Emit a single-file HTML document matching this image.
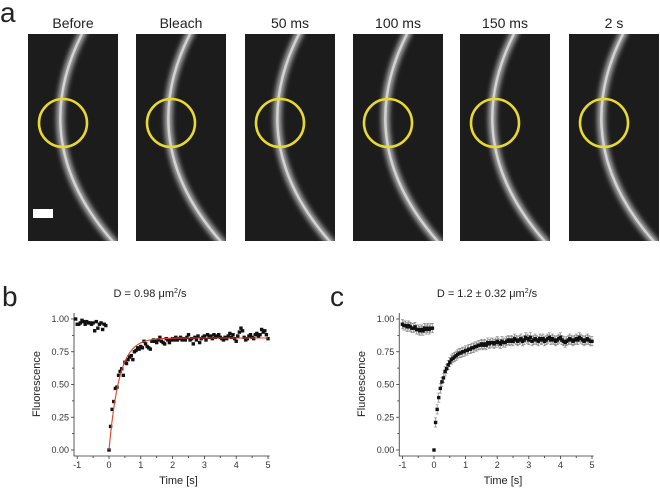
<!DOCTYPE html>
<html><head><meta charset="utf-8">
<style>
html,body{margin:0;padding:0;background:#fff;}
svg{display:block;font-family:"Liberation Sans",sans-serif;}
</style></head>
<body>
<svg id="fig" width="660" height="490" viewBox="0 0 660 490">
<defs>
<filter id="blur" x="-50%" y="-10%" width="200%" height="120%"><feGaussianBlur stdDeviation="2.4"/></filter>
<clipPath id="pclip"><rect x="0" y="0" width="90" height="207"/></clipPath>
</defs>
<text x="0" y="22" font-size="28" fill="#222">a</text>
<text x="2" y="306" font-size="28" fill="#222">b</text>
<text x="330" y="306" font-size="28" fill="#222">c</text>
<g id="images"></g>
<g id="chartB"></g>
<g id="chartC"></g>
</svg>
<script>
const NS="http://www.w3.org/2000/svg";
// ---- image panels ----
const panelTitles=["Before","Bleach","50 ms","100 ms","150 ms","2 s"];
const panelLefts=[28,136,245,353,460,569];
function mk(tag,attrs,parent){const e=document.createElementNS(NS,tag);for(const k in attrs)e.setAttribute(k,attrs[k]);parent.appendChild(e);return e;}
const imgs=document.getElementById('images');
panelTitles.forEach((t,i)=>{
  const x0=panelLefts[i];
  const g=mk('g',{transform:`translate(${x0},34)`},imgs);
  
  
  const inner=mk('g',{'clip-path':'url(#pclip)'},g);
  mk('rect',{x:0,y:0,width:90,height:207,fill:'#1c1c1c'},inner);
  mk('path',{d:'M56,-4 Q-4,110 88,211',fill:'none',stroke:'#a8a8a8','stroke-width':8,filter:'url(#blur)'},inner);
  mk('path',{d:'M56,-4 Q-4,110 88,211',fill:'none',stroke:'#e6e6e6','stroke-width':2.4,opacity:0.75},inner);
  const c=mk('circle',{cx:35,cy:89,r:24,fill:'none',stroke:'#e9d92c','stroke-width':2.6},g);
  
  
  const tt=mk('text',{x:x0+45,y:28,'font-size':14,'text-anchor':'middle',fill:'#222'},imgs);
  tt.textContent=t;
  
  
  if(i===0){const sb=mk('rect',{x:5,y:175,width:20,height:9,fill:'#fff'},g);
    
    }
});

// ---- chart data ----
const xTicks=[-1,0,1,2,3,4,5];
const yTicks=[0,0.25,0.5,0.75,1.0];
const yTickLabels=["0.00","0.25","0.50","0.75","1.00"];
const bPreStart=-1.05;
const bPre=[1.00,0.96,0.96,0.97,0.99,0.98,0.96,0.98,0.97,0.97,0.96,0.97,0.91,0.98,0.93,0.96,0.97,0.92,0.96,0.95];
const bPost=[0,0.18,0.31,0.37,0.47,0.48,0.57,0.60,0.62,0.57,0.67,0.66,0.69,0.71,0.72,0.69,0.75,0.76,0.78,0.77,0.79,0.78,0.83,0.81,0.79,0.78,0.77,0.83,0.84,0.83,0.82,0.84,0.86,0.83,0.82,0.81,0.85,0.84,0.82,0.84,0.85,0.84,0.86,0.84,0.85,0.86,0.84,0.85,0.84,0.86,0.88,0.84,0.85,0.81,0.86,0.84,0.87,0.82,0.85,0.86,0.87,0.84,0.88,0.86,0.87,0.85,0.88,0.86,0.87,0.88,0.86,0.85,0.84,0.86,0.85,0.87,0.89,0.86,0.88,0.85,0.83,0.87,0.90,0.93,0.91,0.86,0.84,0.85,0.87,0.88,0.86,0.85,0.88,0.89,0.87,0.88,0.92,0.90,0.91,0.88,0.85];
const bFitPlateau=[0.855];
const bFitTau=[0.32];
const cPreStart=-1.0;
const cPre=[0.96,0.95,0.95,0.94,0.95,0.94,0.93,0.93,0.94,0.92,0.92,0.91,0.92,0.91,0.93,0.92,0.93,0.92,0.93,0.93];
const cPost=[0,0.21,0.31,0.40,0.47,0.52,0.55,0.60,0.62,0.65,0.67,0.69,0.70,0.71,0.72,0.73,0.74,0.74,0.75,0.75,0.76,0.76,0.77,0.77,0.78,0.78,0.79,0.79,0.80,0.80,0.81,0.80,0.81,0.80,0.82,0.81,0.82,0.82,0.81,0.82,0.83,0.82,0.81,0.83,0.82,0.82,0.83,0.84,0.83,0.84,0.83,0.85,0.84,0.83,0.84,0.85,0.83,0.84,0.86,0.85,0.84,0.86,0.83,0.84,0.85,0.84,0.83,0.85,0.84,0.85,0.83,0.84,0.85,0.86,0.84,0.85,0.84,0.83,0.84,0.85,0.86,0.84,0.83,0.82,0.83,0.84,0.85,0.84,0.83,0.84,0.85,0.84,0.86,0.85,0.84,0.83,0.84,0.85,0.84,0.83,0.83];
const cErr=[0.035];
const dt=0.05;

function drawChart(gid,x0u,xPerUnit,title,pre,preStart,post,opts){
  const g=document.getElementById(gid);
  const X=v=>x0u+v*xPerUnit, Y=v=>450-v*131;
  const left=X(-1.1), right=X(5.05), bottom=456, top=313;
  const t=mk('text',{x:opts.tx,y:297,'font-size':11,'text-anchor':'middle',fill:'#222'},g);
  t.innerHTML=title;
  
  
  const ax=mk('path',{d:`M${left},${top}V${bottom}H${right}`,fill:'none',stroke:'#333','stroke-width':0.8},g);
  
  
  xTicks.forEach(v=>{mk('line',{x1:X(v),x2:X(v),y1:bottom,y2:bottom+3,stroke:'#333','stroke-width':0.8},g);
    const l=mk('text',{x:X(v),y:bottom+12,'font-size':9,'text-anchor':'middle',fill:'#333'},g);l.textContent=v;
    
    
    if(v<5)mk('line',{x1:X(v+0.5),x2:X(v+0.5),y1:bottom,y2:bottom+2,stroke:'#333','stroke-width':0.8},g);});
  yTicks.forEach((v,i)=>{mk('line',{x1:left-3,x2:left,y1:Y(v),y2:Y(v),stroke:'#333','stroke-width':0.8},g);
    if(i<4)mk('line',{x1:left-2,x2:left,y1:Y(v+0.125),y2:Y(v+0.125),stroke:'#333','stroke-width':0.8},g);
    const l=mk('text',{x:left-5,y:Y(v)+3,'font-size':9,'text-anchor':'end',fill:'#333'},g);l.textContent=yTickLabels[i];
    
    });
  const xl=mk('text',{x:(X(0)+X(5))/2-10,y:484,'font-size':11,'text-anchor':'middle',fill:'#222'},g);xl.textContent='Time [s]';
  
  
  const yl=mk('text',{x:0,y:0,'font-size':11,'text-anchor':'middle',fill:'#222',transform:`translate(${left-34},384) rotate(-90)`},g);yl.textContent='Fluorescence';
  
  
  const pts=[];
  pre.forEach((v,i)=>pts.push([preStart+i*dt,v]));
  post.forEach((v,i)=>pts.push([i*dt,v]));
  if(opts.err){pts.forEach(p=>{if(p[1]===0)return;const e=mk('path',{d:`M${X(p[0])},${Y(p[1]-opts.err)}V${Y(p[1]+opts.err)}M${X(p[0])-1.5},${Y(p[1]-opts.err)}h3M${X(p[0])-1.5},${Y(p[1]+opts.err)}h3`,stroke:'#777','stroke-width':0.6,fill:'none'},g);
    
    });}
  pts.forEach(p=>{const r=mk('rect',{x:X(p[0])-1.7,y:Y(p[1])-1.7,width:3.4,height:3.4,fill:'#111'},g);
    
    });
  if(opts.fit){let d='';for(let i=0;i<=200;i++){const tt=i*5/200;const v=opts.fit[0]*(1-Math.exp(-tt/opts.fit[1]));d+=(i?'L':'M')+X(tt).toFixed(1)+','+Y(v).toFixed(1);}
    const f=mk('path',{d,fill:'none',stroke:'#e0402a','stroke-width':1.1},g);
    
    }
}
drawChart('chartB',109,31.8,'D = 0.98 μm<tspan font-size="7" dy="-4">2</tspan><tspan dy="4">/s</tspan>',bPre,bPreStart,bPost,{tx:150,fit:[bFitPlateau[0],bFitTau[0]]});
drawChart('chartC',434,31.6,'D = 1.2 ± 0.32 μm<tspan font-size="7" dy="-4">2</tspan><tspan dy="4">/s</tspan>',cPre,cPreStart,cPost,{tx:487,err:cErr[0]});
</script>
</body></html>
